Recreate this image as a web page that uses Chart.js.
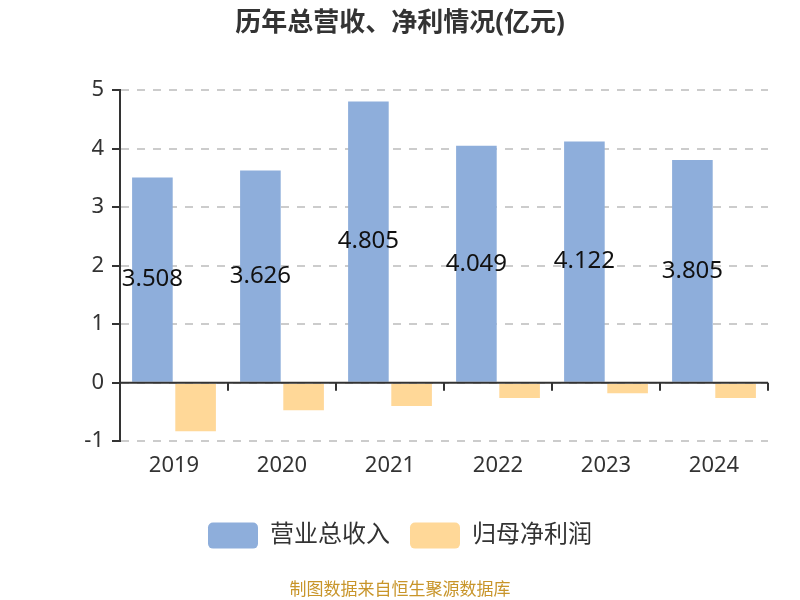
<!DOCTYPE html>
<html>
<head>
<meta charset="utf-8">
<script src="https://cdn.jsdelivr.net/npm/chart.js@4/dist/chart.umd.min.js"></script>
<style>
  html, body { margin: 0; padding: 0; background: #fff; }
  #wrap { width: 800px; height: 600px; }
</style>
</head>
<body>
<div id="wrap"><canvas id="chart" width="800" height="600"></canvas></div>
<script>
const years = ["2019", "2020", "2021", "2022", "2023", "2024"];
const revenue = [3.508, 3.626, 4.805, 4.049, 4.122, 3.805];
const netProfit = [-0.83, -0.47, -0.40, -0.26, -0.18, -0.26];
const yTicks = [-1, 0, 1, 2, 3, 4, 5];

const FONT = "'Noto Sans', 'Noto Sans CJK SC', sans-serif";

// value labels in the middle of the revenue bars
const barLabels = {
    id: "barLabels",
    afterDatasetsDraw(chart) {
        const ctx = chart.ctx;
        const meta = chart.getDatasetMeta(0);
        ctx.save();
        ctx.font = "24px " + FONT;
        ctx.fillStyle = "#111";
        ctx.textAlign = "center";
        ctx.textBaseline = "middle";
        meta.data.forEach((bar, i) => {
            ctx.fillText(revenue[i].toFixed(3), bar.x, (bar.y + bar.base) / 2);
        });
        ctx.restore();
    },
};

// zero line with category ticks, like the axis in the original
const zeroAxis = {
    id: "zeroAxis",
    afterDatasetsDraw(chart) {
        const ctx = chart.ctx;
        const x = chart.scales.x;
        const y0 = chart.scales.y.getPixelForValue(0);
        ctx.save();
        ctx.strokeStyle = "#333";
        ctx.lineWidth = 2;
        ctx.beginPath();
        ctx.moveTo(x.left, y0);
        ctx.lineTo(x.right, y0);
        const step = (x.right - x.left) / years.length;
        for (let i = 0; i <= years.length; i++) {
            const px = Math.round(x.left + step * i);
            ctx.moveTo(px, y0);
            ctx.lineTo(px, y0 + 8);
        }
        ctx.stroke();
        ctx.restore();
    },
};

new Chart(document.getElementById("chart"), {
    type: "bar",
    data: {
        labels: years,
        datasets: [
            {
                label: "营业总收入",
                data: revenue,
                backgroundColor: "#8eaedb",
                categoryPercentage: 0.8,
                barPercentage: 0.94,
            },
            {
                label: "归母净利润",
                data: netProfit,
                backgroundColor: "#ffd898",
                categoryPercentage: 0.8,
                barPercentage: 0.94,
            },
        ],
    },
    options: {
        responsive: false,
        animation: false,
        layout: { padding: { left: 32, right: 32, top: 0, bottom: 0 } },
        plugins: {
            title: {
                display: true,
                text: "历年总营收、净利情况(亿元)",
                color: "#333",
                font: { family: FONT, size: 26, weight: "bold" },
                padding: { top: 8, bottom: 51 },
            },
            subtitle: {
                display: true,
                position: "bottom",
                text: "制图数据来自恒生聚源数据库",
                color: "#c8952a",
                font: { family: FONT, size: 17 },
                padding: { top: 21, bottom: 0 },
            },
            legend: {
                position: "bottom",
                labels: {
                    useBorderRadius: true,
                    borderRadius: 5,
                    boxWidth: 50,
                    boxHeight: 26,
                    color: "#333",
                    padding: 20,
                    font: { family: FONT, size: 24 },
                },
            },
            tooltip: { enabled: false },
        },
        scales: {
            x: {
                grid: { display: false },
                border: { display: false },
                ticks: { color: "#333", font: { family: FONT, size: 22 }, padding: 3 },
                afterFit: (axis) => {
                    axis.height += 21;
                },
            },
            y: {
                min: -1,
                max: 5,
                afterBuildTicks: (axis) => {
                    axis.ticks = yTicks.map((v) => ({ value: v }));
                },
                afterFit: (axis) => {
                    axis.width = 88;
                },
                grid: {
                    color: "#cccccc",
                    lineWidth: 2,
                    tickColor: "#333",
                    tickLength: 8,
                    tickBorderDash: [],
                },
                border: { display: true, color: "#333", width: 2, dash: [8, 8] },
                ticks: { color: "#333", font: { family: FONT, size: 22 }, padding: 8 },
            },
        },
    },
    plugins: [barLabels, zeroAxis],
});
</script>
</body>
</html>
